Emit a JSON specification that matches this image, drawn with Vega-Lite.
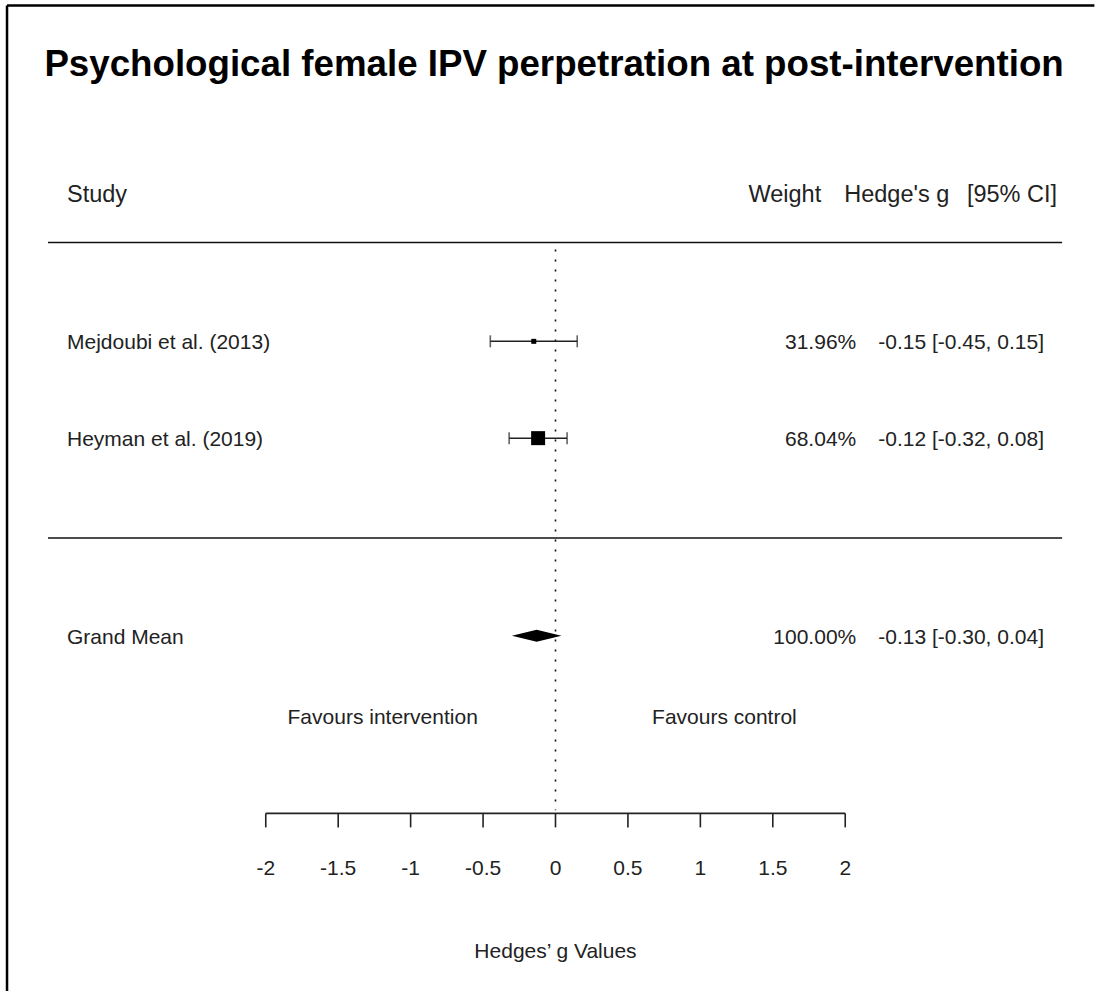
{
  "$schema": "https://vega.github.io/schema/vega-lite/v6.json",
  "width": 1096,
  "height": 993,
  "autosize": {"type": "fit", "contains": "padding"},
  "padding": 0,
  "background": "white",
  "config": {"view": {"stroke": null}, "text": {"font": "Liberation Sans", "fontSize": 21, "color": "#222", "dy": 2}},
  "datasets": {
    "studies": [
      {"study": "Mejdoubi et al. (2013)", "row": 5, "g": -0.15, "lo": -0.45, "hi": 0.15, "weight": 31.96, "wlabel": "31.96%", "ci": "-0.15 [-0.45, 0.15]"},
      {"study": "Heyman et al. (2019)", "row": 4, "g": -0.12, "lo": -0.32, "hi": 0.08, "weight": 68.04, "wlabel": "68.04%", "ci": "-0.12 [-0.32, 0.08]"}
    ],
    "summary": [
      {"study": "Grand Mean", "row": 1.959, "g": -0.13, "lo": -0.30, "hi": 0.04, "wlabel": "100.00%", "ci": "-0.13 [-0.30, 0.04]"}
    ],
    "ticks": [
      {"v": -2, "label": "-2"}, {"v": -1.5, "label": "-1.5"}, {"v": -1, "label": "-1"}, {"v": -0.5, "label": "-0.5"},
      {"v": 0, "label": "0"}, {"v": 0.5, "label": "0.5"}, {"v": 1, "label": "1"}, {"v": 1.5, "label": "1.5"}, {"v": 2, "label": "2"}
    ],
    "one": [{}]
  },
  "layer": [
    {
      "data": {"name": "one"},
      "mark": {"type": "rule", "stroke": "black", "strokeWidth": 2.5},
      "encoding": {
        "x": {"datum": -3.786, "type": "quantitative", "scale": {"domain": [-3.8345, 3.7241], "nice": false, "zero": false}, "axis": null},
        "y": {"datum": 8.469, "type": "quantitative", "scale": {"domain": [-1.711, 8.526], "nice": false, "zero": false}, "axis": null},
        "y2": {"datum": -1.711}
      }
    },
    {
      "data": {"name": "one"},
      "mark": {"type": "rule", "stroke": "black", "strokeWidth": 2.5},
      "encoding": {
        "x": {"datum": -3.786, "type": "quantitative"},
        "x2": {"datum": 3.72},
        "y": {"datum": 8.469, "type": "quantitative"}
      }
    },
    {
      "data": {"name": "one"},
      "mark": {"type": "rule", "stroke": "#111", "strokeWidth": 1.5},
      "encoding": {
        "x": {"datum": -3.503, "type": "quantitative"},
        "x2": {"datum": 3.497},
        "y": {"datum": 6.021, "type": "quantitative"}
      }
    },
    {
      "data": {"name": "one"},
      "mark": {"type": "rule", "stroke": "#111", "strokeWidth": 1.5},
      "encoding": {
        "x": {"datum": -3.503, "type": "quantitative"},
        "x2": {"datum": 3.497},
        "y": {"datum": 2.969, "type": "quantitative"}
      }
    },
    {
      "data": {"name": "one"},
      "mark": {"type": "rule", "stroke": "#111", "strokeWidth": 1.6, "strokeDash": [2, 8]},
      "encoding": {
        "x": {"datum": 0, "type": "quantitative"},
        "y": {"datum": 5.948, "type": "quantitative"},
        "y2": {"datum": 0.155}
      }
    },
    {
      "data": {"name": "studies"},
      "mark": {"type": "rule", "stroke": "#222", "strokeWidth": 1.5},
      "encoding": {
        "x": {"field": "lo", "type": "quantitative"},
        "x2": {"field": "hi"},
        "y": {"field": "row", "type": "quantitative"}
      }
    },
    {
      "data": {"name": "studies"},
      "mark": {"type": "tick", "orient": "vertical", "size": 12, "thickness": 1.6, "color": "#222"},
      "encoding": {
        "x": {"field": "lo", "type": "quantitative"},
        "y": {"field": "row", "type": "quantitative"}
      }
    },
    {
      "data": {"name": "studies"},
      "mark": {"type": "tick", "orient": "vertical", "size": 12, "thickness": 1.6, "color": "#222"},
      "encoding": {
        "x": {"field": "hi", "type": "quantitative"},
        "y": {"field": "row", "type": "quantitative"}
      }
    },
    {
      "data": {"name": "studies"},
      "mark": {"type": "square", "color": "black", "opacity": 1},
      "encoding": {
        "x": {"field": "g", "type": "quantitative"},
        "y": {"field": "row", "type": "quantitative"},
        "size": {"field": "weight", "type": "quantitative", "scale": {"domain": [31.96, 68.04], "range": [25, 196]}, "legend": null}
      }
    },
    {
      "data": {"name": "summary"},
      "mark": {"type": "point", "shape": "M-1,0L0,-0.245L1,0L0,0.245Z", "filled": true, "color": "black", "opacity": 1, "size": 2450},
      "encoding": {
        "x": {"field": "g", "type": "quantitative"},
        "y": {"field": "row", "type": "quantitative"}
      }
    },
    {
      "data": {"name": "studies"},
      "mark": {"type": "text", "align": "left", "baseline": "middle"},
      "encoding": {
        "x": {"datum": -3.372, "type": "quantitative"},
        "y": {"field": "row", "type": "quantitative"},
        "text": {"field": "study"}
      }
    },
    {
      "data": {"name": "summary"},
      "mark": {"type": "text", "align": "left", "baseline": "middle"},
      "encoding": {
        "x": {"datum": -3.372, "type": "quantitative"},
        "y": {"field": "row", "type": "quantitative"},
        "text": {"field": "study"}
      }
    },
    {
      "data": {"name": "studies"},
      "mark": {"type": "text", "align": "right", "baseline": "middle"},
      "encoding": {
        "x": {"datum": 2.076, "type": "quantitative"},
        "y": {"field": "row", "type": "quantitative"},
        "text": {"field": "wlabel"}
      }
    },
    {
      "data": {"name": "summary"},
      "mark": {"type": "text", "align": "right", "baseline": "middle"},
      "encoding": {
        "x": {"datum": 2.076, "type": "quantitative"},
        "y": {"field": "row", "type": "quantitative"},
        "text": {"field": "wlabel"}
      }
    },
    {
      "data": {"name": "studies"},
      "mark": {"type": "text", "align": "right", "baseline": "middle"},
      "encoding": {
        "x": {"datum": 3.372, "type": "quantitative"},
        "y": {"field": "row", "type": "quantitative"},
        "text": {"field": "ci"}
      }
    },
    {
      "data": {"name": "summary"},
      "mark": {"type": "text", "align": "right", "baseline": "middle"},
      "encoding": {
        "x": {"datum": 3.372, "type": "quantitative"},
        "y": {"field": "row", "type": "quantitative"},
        "text": {"field": "ci"}
      }
    },
    {
      "data": {"name": "one"},
      "mark": {"type": "text", "align": "center", "baseline": "middle", "fontSize": 36.7, "fontWeight": "bold", "color": "black"},
      "encoding": {
        "x": {"datum": -0.01, "type": "quantitative"},
        "y": {"datum": 7.876, "type": "quantitative"},
        "text": {"value": "Psychological female IPV perpetration at post-intervention"}
      }
    },
    {
      "data": {"name": "one"},
      "mark": {"type": "text", "align": "left", "baseline": "middle", "fontSize": 23.5},
      "encoding": {
        "x": {"datum": -3.372, "type": "quantitative"},
        "y": {"datum": 6.536, "type": "quantitative"},
        "text": {"value": "Study"}
      }
    },
    {
      "data": {"name": "one"},
      "mark": {"type": "text", "align": "right", "baseline": "middle", "fontSize": 23.5},
      "encoding": {
        "x": {"datum": 1.834, "type": "quantitative"},
        "y": {"datum": 6.536, "type": "quantitative"},
        "text": {"value": "Weight"}
      }
    },
    {
      "data": {"name": "one"},
      "mark": {"type": "text", "align": "left", "baseline": "middle", "fontSize": 23.5},
      "encoding": {
        "x": {"datum": 1.993, "type": "quantitative"},
        "y": {"datum": 6.536, "type": "quantitative"},
        "text": {"value": "Hedge's g"}
      }
    },
    {
      "data": {"name": "one"},
      "mark": {"type": "text", "align": "right", "baseline": "middle", "fontSize": 23.5},
      "encoding": {
        "x": {"datum": 3.462, "type": "quantitative"},
        "y": {"datum": 6.536, "type": "quantitative"},
        "text": {"value": "[95% CI]"}
      }
    },
    {
      "data": {"name": "one"},
      "mark": {"type": "text", "align": "center", "baseline": "middle"},
      "encoding": {
        "x": {"datum": -1.193, "type": "quantitative"},
        "y": {"datum": 1.134, "type": "quantitative"},
        "text": {"value": "Favours intervention"}
      }
    },
    {
      "data": {"name": "one"},
      "mark": {"type": "text", "align": "center", "baseline": "middle"},
      "encoding": {
        "x": {"datum": 1.166, "type": "quantitative"},
        "y": {"datum": 1.134, "type": "quantitative"},
        "text": {"value": "Favours control"}
      }
    },
    {
      "data": {"name": "one"},
      "mark": {"type": "rule", "stroke": "#222", "strokeWidth": 1.6},
      "encoding": {
        "x": {"datum": -2, "type": "quantitative"},
        "x2": {"datum": 2},
        "y": {"datum": 0.124, "type": "quantitative"}
      }
    },
    {
      "data": {"name": "ticks"},
      "mark": {"type": "rule", "stroke": "#222", "strokeWidth": 1.6},
      "encoding": {
        "x": {"field": "v", "type": "quantitative"},
        "y": {"datum": 0.124, "type": "quantitative"},
        "y2": {"datum": -0.021}
      }
    },
    {
      "data": {"name": "ticks"},
      "mark": {"type": "text", "align": "center", "baseline": "middle"},
      "encoding": {
        "x": {"field": "v", "type": "quantitative"},
        "y": {"datum": -0.433, "type": "quantitative"},
        "text": {"field": "label"}
      }
    },
    {
      "data": {"name": "one"},
      "mark": {"type": "text", "align": "center", "baseline": "middle"},
      "encoding": {
        "x": {"datum": 0, "type": "quantitative"},
        "y": {"datum": -1.289, "type": "quantitative"},
        "text": {"value": "Hedges’ g Values"}
      }
    }
  ]
}
